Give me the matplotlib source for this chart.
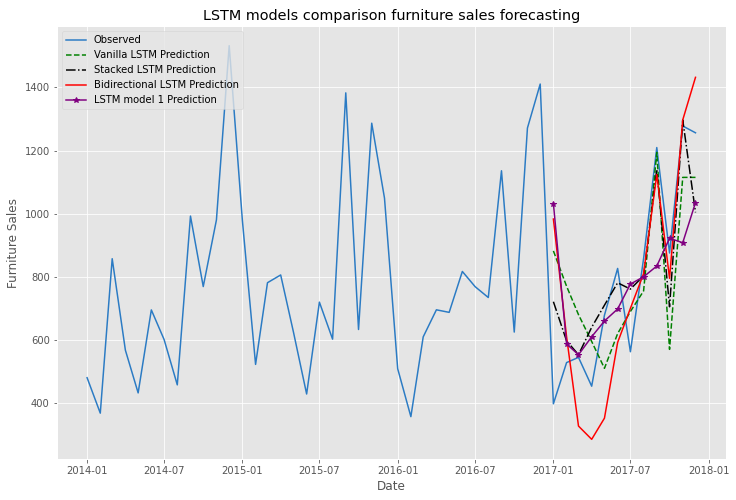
import matplotlib
matplotlib.use('Agg')
import matplotlib.pyplot as plt
import pandas as pd

plt.style.use('ggplot')

# Data
dates = pd.date_range('2014-01-01', periods=48, freq='MS')
observed = [480.19, 367.93, 857.29, 567.49, 432.05, 695.06, 601.17, 457.52,
            992.35, 769.02, 980.22, 1532.30,
            978.33, 522.40, 781.24, 805.82, 624.99, 428.57, 719.71, 602.41,
            1382.79, 632.98, 1286.70, 1049.36,
            508.78, 356.87, 609.58, 695.37, 687.27, 816.91, 768.74, 734.31,
            1135.95, 624.87, 1271.35, 1410.72,
            397.60, 528.18, 544.67, 453.30, 678.30, 826.46, 562.52, 857.88,
            1209.51, 875.36, 1277.82, 1256.30]

pred_dates = dates[-12:]
vanilla = [882, 770, 680, 595, 510, 620, 690, 755, 1194, 570, 1115, 1115]
stacked = [721, 597, 553, 640, 710, 781, 761, 803, 1140, 705, 1297, 1004]
bidirectional = [983, 610, 327, 285, 352, 592, 700, 810, 1124, 795, 1297, 1432]
lstm1 = [1032, 587, 553, 610, 660, 698, 777, 800, 834, 922, 908, 1035]

fig = plt.figure(figsize=(736 / 72, 500 / 72), dpi=72)
ax = fig.add_axes([0.077, 0.082, 0.9093, 0.866])

ax.plot(dates, observed, color='#2b7bc4', label='Observed')
ax.plot(pred_dates, vanilla, 'g--', label='Vanilla LSTM Prediction')
ax.plot(pred_dates, stacked, 'k-.', label='Stacked LSTM Prediction')
ax.plot(pred_dates, bidirectional, 'r', label='Bidirectional LSTM Prediction')
ax.plot(pred_dates, lstm1, color='purple', marker='*', label='LSTM model 1 Prediction')

ax.set_title('LSTM models comparison furniture sales forecasting', fontsize=14.4)
ax.set_xlabel('Date')
ax.set_ylabel('Furniture Sales')
ax.legend(loc='upper left')

fig.savefig('out.png', dpi=72)
